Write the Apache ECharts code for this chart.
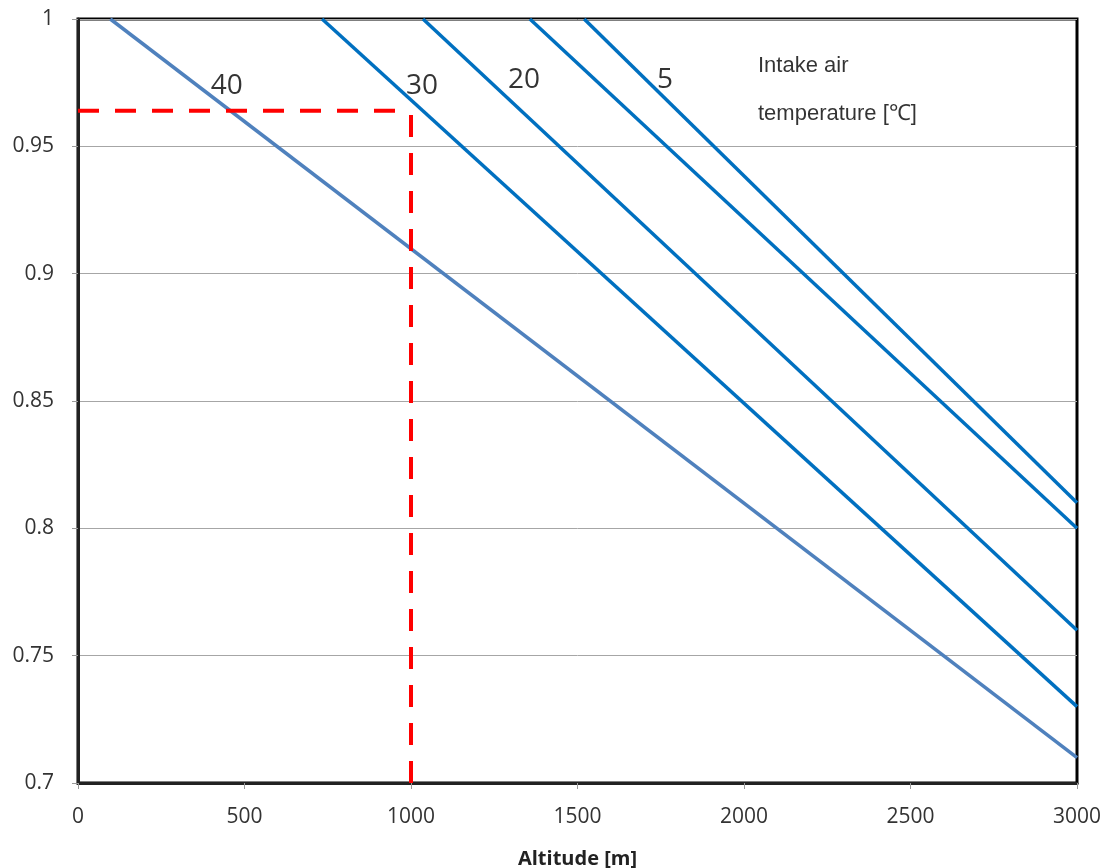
<!DOCTYPE html>
<html><head><meta charset="utf-8">
<script src="https://cdn.jsdelivr.net/npm/echarts@6/dist/echarts.min.js"></script>
<style>html,body{margin:0;padding:0;background:#fff}#c{width:1111px;height:868px}</style>
</head><body><div id="c"></div>
<script>
// Temperature lines: [altitude, factor] endpoints
const temps = ['40', '30', '20', '10', '5'];
const line40 = [[97, 1], [3000, 0.71]];
const line30 = [[733, 1], [3000, 0.73]];
const line20 = [[1036, 1], [3000, 0.76]];
const line10 = [[1357, 1], [3000, 0.80]];
const line5  = [[1520, 1], [3000, 0.81]];
const lineColors = ['#4f81bd', '#0070c0', '#0070c0', '#0070c0', '#0070c0'];
// Reference (red dashed) lines
const refH = [[0, 0.964], [1000, 0.964]];
const refV = [[1000, 0.7], [1000, 0.964]];
// Line label positions in data coordinates
const lineLabels = [
  { text: '40', coord: [447, 0.9737] },
  { text: '30', coord: [1033, 0.9737] },
  { text: '20', coord: [1339, 0.976] },
  { text: '5',  coord: [1763, 0.976] }
];
const noteLines = [
  { text: 'Intake air', coord: [2042, 0.9815] },
  { text: 'temperature [℃]', coord: [2042, 0.9627] }
];
const xTicks = { min: 0, max: 3000, interval: 500 };
const yTicks = { min: 0.7, max: 1, interval: 0.05 };

const chart = echarts.init(document.getElementById('c'), null, { renderer: 'canvas' });
const lines = [line40, line30, line20, line10, line5];
const series = lines.map((d, i) => ({
  name: temps[i], type: 'line', data: d, symbol: 'none', silent: true,
  lineStyle: { color: lineColors[i], width: 3.5 }, z: 3
}));
series.push({
  type: 'line', data: refH, symbol: 'none', silent: true, z: 4,
  lineStyle: { color: '#ff0000', width: 4, type: [21, 16] }
});
series.push({
  type: 'line', data: refV, symbol: 'none', silent: true, z: 4,
  lineStyle: { color: '#ff0000', width: 4, type: [22, 16] }
});
series.push({
  type: 'scatter', symbolSize: 0, silent: true, z: 5,
  data: lineLabels.map(l => ({ value: l.coord, name: l.text })),
  label: { show: true, position: 'inside', formatter: p => p.name,
    fontFamily: 'Open Sans', fontSize: 28, color: '#000' }
});
series.push({
  type: 'scatter', symbolSize: 0, silent: true, z: 5,
  data: noteLines.map(l => ({ value: l.coord, name: l.text })),
  label: { show: true, position: 'right', distance: 0, formatter: p => p.name,
    fontFamily: '"Liberation Sans", Arial, sans-serif', fontSize: 22, color: '#000' }
});

chart.setOption({
  animation: false,
  grid: { left: 78, right: 34, top: 19, bottom: 85, show: true,
    containLabel: false, outerBoundsMode: 'none',
    borderColor: '#000', borderWidth: 3, backgroundColor: 'transparent' },
  xAxis: {
    type: 'value', min: xTicks.min, max: xTicks.max, interval: xTicks.interval,
    name: 'Altitude [m]', nameLocation: 'middle', nameGap: 66,
    nameTextStyle: { fontFamily: 'Open Sans', fontWeight: 'bold', fontSize: 20, color: '#222' },
    axisLine: { show: true, onZero: false, lineStyle: { color: '#222', width: 3 } },
    axisTick: { show: true, length: 6, lineStyle: { color: '#999' } },
    axisLabel: { fontFamily: 'Open Sans', fontSize: 21, color: '#333', margin: 24,
      formatter: v => String(v) },
    splitLine: { show: false }
  },
  yAxis: {
    type: 'value', min: yTicks.min, max: yTicks.max, interval: yTicks.interval,
    axisLine: { show: true, onZero: false, lineStyle: { color: '#222', width: 3 } },
    axisTick: { show: true, length: 6, lineStyle: { color: '#999' } },
    axisLabel: { fontFamily: 'Open Sans', fontSize: 21, color: '#333', margin: 24,
      formatter: v => String(parseFloat(v.toFixed(2))) },
    splitLine: { show: true, lineStyle: { color: '#a6a6a6', width: 1 } }
  },
  series: series
});
</script></body></html>
